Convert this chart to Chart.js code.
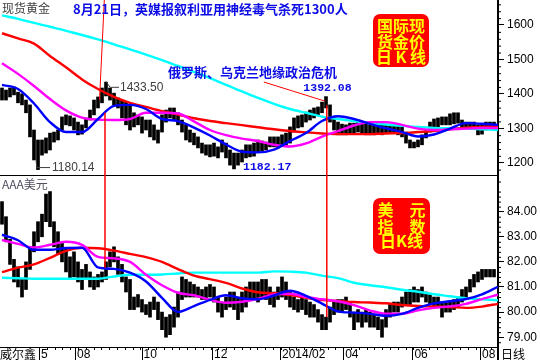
<!DOCTYPE html>
<html>
<head>
<meta charset="utf-8">
<script src="https://cdn.jsdelivr.net/npm/chart.js@4.4.0/dist/chart.umd.min.js"></script>
<style>
  html, body { margin: 0; padding: 0; background: #fff; }
</style>
</head>
<body>
<canvas id="myChart" width="540" height="360"></canvas>
<script>
// one bar = about 2.5 trading days, moving averages read every 4 bars
const MA_STEP = 4;

const goldHigh = [1417,1411,1417,1420,1405,1400,1382,1368,1295,1266,
    1266,1272,1286,1289,1295,1333,1339,1336,1330,1318,
    1310,1330,1353,1382,1391,1417,1434,1417,1402,1388,
    1382,1376,1368,1345,1339,1333,1324,1324,1310,1295,
    1339,1353,1359,1359,1345,1324,1310,1295,1286,1275,
    1257,1252,1252,1257,1246,1266,1257,1237,1228,1228,
    1237,1252,1252,1257,1266,1263,1260,1275,1275,1275,
    1281,1286,1304,1330,1336,1339,1347,1353,1359,1362,
    1376,1392,1368,1333,1318,1312,1310,1315,1315,1324,
    1318,1315,1310,1310,1310,1310,1310,1307,1310,1310,
    1304,1289,1266,1260,1266,1281,1295,1318,1327,1330,
    1333,1333,1342,1345,1345,1324,1318,1318,1318,1310,
    1312,1318,1318,1318];
const goldLow = [1382,1382,1391,1397,1374,1368,1345,1275,1208,1180,
    1222,1228,1237,1260,1266,1295,1310,1307,1295,1281,
    1283,1301,1324,1339,1359,1374,1394,1382,1368,1359,
    1330,1310,1295,1304,1310,1286,1295,1275,1266,1257,
    1289,1318,1330,1324,1310,1289,1266,1260,1252,1243,
    1228,1222,1217,1219,1214,1231,1214,1193,1182,1193,
    1202,1214,1217,1219,1231,1234,1237,1246,1246,1243,
    1249,1252,1257,1289,1301,1304,1318,1324,1330,1339,
    1345,1359,1318,1295,1281,1281,1281,1286,1286,1289,
    1286,1281,1281,1281,1283,1281,1286,1286,1286,1281,
    1275,1257,1243,1243,1246,1252,1272,1289,1301,1304,
    1310,1310,1310,1313,1315,1301,1301,1301,1298,1281,
    1283,1295,1301,1301];

const usdHigh = [84.4,83.8,82.9,82.1,81.8,81.3,82.0,82.6,83.2,83.6,
    83.9,84.7,84.8,83.6,83.2,82.8,82.5,82.2,82.4,82.0,
    81.7,81.9,81.6,81.4,81.5,81.6,82.0,82.4,82.6,82.2,
    81.9,81.4,81.3,80.6,80.7,80.5,80.3,80.4,80.6,80.4,
    80.0,79.8,79.9,80.2,80.8,81.4,81.3,81.2,81.1,81.0,
    80.9,81.0,81.1,81.0,80.6,80.4,80.6,80.8,80.8,80.6,
    80.8,81.0,81.2,81.2,81.2,81.3,81.3,81.0,80.8,81.0,
    81.4,81.2,80.8,80.6,80.5,80.6,80.5,80.4,80.3,80.1,
    79.9,79.8,80.2,80.4,80.5,80.5,80.6,80.4,80.0,80.1,
    80.0,80.1,80.0,79.9,79.8,79.7,80.1,80.3,80.4,80.4,
    80.6,80.8,80.9,81.0,80.9,81.0,80.8,80.7,80.6,80.6,
    80.4,80.4,80.4,80.5,80.6,80.9,81.0,81.3,81.5,81.6,
    81.7,81.7,81.7,81.7];
const usdLow = [83.5,82.8,81.9,81.2,81.0,80.6,80.9,81.7,82.4,82.8,
    83.0,83.6,83.4,82.6,82.3,82.0,81.6,81.3,81.4,81.2,
    80.9,81.3,81.0,80.9,81.0,81.2,81.3,81.8,82.0,81.5,
    81.2,80.8,80.1,80.1,80.2,80.0,79.9,79.8,80.1,79.7,
    79.3,79.0,79.1,79.4,79.8,80.5,80.6,80.6,80.6,80.6,
    80.5,80.5,80.6,80.4,80.0,79.8,80.1,80.2,80.1,79.7,
    80.0,80.2,80.5,80.5,80.4,80.6,80.5,80.3,80.2,80.5,
    80.6,80.5,80.2,80.1,80.0,80.1,79.9,79.8,79.8,79.6,
    79.3,79.3,79.6,79.9,80.0,80.0,80.1,79.8,79.3,79.6,
    79.4,79.6,79.4,79.4,79.3,79.0,79.4,79.8,80.0,80.0,
    80.2,80.3,80.3,80.4,80.4,80.6,80.4,80.3,80.2,80.2,
    79.8,80.0,80.0,80.1,80.2,80.4,80.6,80.8,81.0,81.2,
    81.3,81.4,81.4,81.4];

// moving averages, one value every MA_STEP bars
const goldMaBlue = [1426,1414,1372,1318,1289,1289,1327,1365,1368,1356,1327,1321,1302,1279,1253,1232,
    1230,1238,1263,1286,1321,1335,1327,1313,1300,1289,1276,1282,1299,1315,1313,1310];
const goldMaPink = [1489,1458,1423,1385,1352,1331,1325,1324,1327,1345,1345,1343,1320,1295,1280,1270,
    1263,1252,1247,1256,1276,1292,1308,1318,1318,1310,1299,1295,1297,1299,1301,1301];
const goldMaRed = [1576,1561,1546,1510,1477,1442,1414,1391,1374,1362,1350,1340,1329,1321,1315,1309,
    1303,1297,1292,1288,1285,1283,1283,1283,1285,1286,1289,1292,1297,1302,1304,1307];
const goldMaCyan = [1628,1618,1606,1595,1583,1571,1558,1544,1529,1514,1498,1481,1464,1446,1426,1407,
    1388,1371,1356,1345,1334,1327,1321,1315,1311,1307,1304,1301,1300,1299,1297,1295];

const usdMaBlue = [83.08,82.86,82.48,82.48,82.55,82.56,81.78,81.72,81.57,81.22,80.57,80.01,80.24,80.49,80.67,80.55,
    80.51,80.66,80.85,80.65,80.34,80.03,79.98,79.93,79.85,79.93,80.17,80.35,80.43,80.52,80.71,81.01];
const usdMaPink = [82.87,82.72,82.57,82.68,82.80,82.68,82.20,82.14,82.00,81.49,81.07,80.77,80.67,80.49,80.37,80.41,
    80.53,80.70,80.73,80.60,80.51,80.43,80.28,80.06,79.94,79.94,80.07,80.17,80.23,80.33,80.52,80.69];
const usdMaRed = [81.59,81.77,81.90,82.16,82.44,82.56,82.54,82.45,82.32,82.19,82.00,81.71,81.45,81.31,81.16,80.94,
    80.79,80.75,80.68,80.57,80.48,80.44,80.40,80.38,80.35,80.28,80.24,80.22,80.20,80.17,80.22,80.33];
const usdMaCyan = [81.37,81.35,81.33,81.33,81.33,81.33,81.33,81.42,81.49,81.49,81.50,81.54,81.57,81.57,81.57,81.57,
    81.57,81.62,81.61,81.57,81.45,81.35,81.17,81.07,80.99,80.89,80.81,80.71,80.63,80.55,80.51,80.47];

const goldTicks = [1200, 1300, 1400, 1500, 1600];
const usdTicks = [79, 80, 81, 82, 83, 84];
const monthLabels = ['5', '08', '10', '12', '2014/02', '04', '06', '08'];
const monthAt = [9.75, 18.75, 35.4, 53, 70, 85.8, 103.1, 120];   // bar index where the label starts

const BLUE_TXT = '#0c0ce6';
const CJK = '"Noto Sans CJK SC", sans-serif';

function barSet(lo, hi, axis) {
    return {
        type: 'bar',
        data: hi.map((h, i) => ({ x: i, y: [lo[i], h] })),
        yAxisID: axis,
        backgroundColor: '#000',
        borderWidth: 0,
        barThickness: 3,
        grouped: false,
        order: 10
    };
}

function maSet(values, color, axis, order) {
    return {
        type: 'line',
        data: values.map((v, k) => ({ x: k * MA_STEP, y: v })),
        yAxisID: axis,
        borderColor: color,
        borderWidth: 2.4,
        pointRadius: 0,
        fill: false,
        cubicInterpolationMode: 'monotone',
        order: order
    };
}

function txt(c, s, x, y, font, color, align) {
    c.font = font;
    c.fillStyle = color;
    c.textAlign = align || 'left';
    c.textBaseline = 'middle';
    c.fillText(s, x, y);
}

function line(c, pts, color, w) {
    c.strokeStyle = color;
    c.lineWidth = w;
    c.beginPath();
    c.moveTo(pts[0][0], pts[0][1]);
    for (let k = 1; k < pts.length; k++) c.lineTo(pts[k][0], pts[k][1]);
    c.stroke();
}

function redBox(c, x, y, w, h, rows, cy) {
    c.fillStyle = '#ff0000';
    c.beginPath();
    c.roundRect(x, y, w, h, 7);
    c.fill();
    rows.forEach((r, k) => txt(c, r, x + w / 2, cy[k], 'bold 16px ' + CJK, '#ffff00', 'center'));
}

// no extra room round the plot for half tick labels
function tightY(s) {
    s.width = 42;
    s.paddingTop = 0;
    s.paddingBottom = 0;
}

const decor = {
    id: 'decor',
    afterDraw(chart) {
        const c = chart.ctx;
        const x = chart.scales.x, g = chart.scales.yG, u = chart.scales.yU;
        const right = chart.chartArea.right;
        c.save();

        // panel separator, axis continuation
        line(c, [[0, g.bottom - 0.5], [right, g.bottom - 0.5]], '#000', 1);
        line(c, [[right, x.top], [right, 360]], '#000', 2);

        // minor ticks on the price axes
        for (let v = 1180; v <= 1660; v += 20) {
            if (v % 100) line(c, [[right, g.getPixelForValue(v) + 0.5], [right + 3, g.getPixelForValue(v) + 0.5]], '#000', 1);
        }
        for (let v = 78.8; v <= 85.3; v += 0.2) {
            if (Math.abs(v - Math.round(v)) > 0.05) line(c, [[right, u.getPixelForValue(v) + 0.5], [right + 3, u.getPixelForValue(v) + 0.5]], '#000', 1);
        }

        // month and week ticks on the date axis
        monthAt.forEach(m => {
            const px = Math.round(x.getPixelForValue(m)) - 1.5;
            line(c, [[px, x.top], [px, 360]], '#000', 1);
        });
        for (let m = monthAt[0] - 1.95 * 5; m < 124; m += 1.95) {
            const px = Math.round(x.getPixelForValue(m)) - 1.5;
            if (px > 36 && px < right) line(c, [[px, x.top], [px, x.top + 3]], '#000', 1);
        }

        // panel titles and corner labels
        txt(c, '现货黄金', 2, 8, '12px ' + CJK, '#404040');
        txt(c, 'AAA美元', 2, 184, '12px ' + CJK, '#505060');
        c.fillStyle = '#fff';
        c.fillRect(0, x.top + 1, 36, 360 - x.top);
        txt(c, '威尔鑫', 0, 354, '12px ' + CJK, '#000');
        txt(c, '日线', right + 3, 354, '12px ' + CJK, '#000');

        // event 1: 2013-08-21
        const e1 = x.getPixelForValue(25.75);
        line(c, [[e1 - 0.7, 0], [e1 - 5.5, g.getPixelForValue(1382)]], '#ff0000', 1);
        line(c, [[e1, g.getPixelForValue(1345)], [e1, u.getPixelForValue(81.77)]], '#ff0000', 1.5);
        txt(c, '8月21日，英媒报叙利亚用神经毒气杀死1300人', 73, 9, 'bold 13px ' + CJK, BLUE_TXT);

        // event 2: Russia / Ukraine
        const e2 = x.getPixelForValue(81.2);
        line(c, [[e2 - 63, 82], [e2 - 2, g.getPixelForValue(1379)]], '#ff0000', 1);
        line(c, [[e2, g.getPixelForValue(1367)], [e2, u.getPixelForValue(79.8)]], '#ff0000', 1.5);
        txt(c, '俄罗斯、乌克兰地缘政治危机', 168, 72, 'bold 13px ' + CJK, BLUE_TXT);

        // extreme price labels
        let px = x.getPixelForValue(26), py = g.getPixelForValue(1433.5);
        line(c, [[px, py - 1], [px + 4, py + 5], [px + 13, py + 5]], '#404040', 1);
        txt(c, '1433.50', px + 14, py + 5, '12px "Liberation Sans", Arial', '#404040');

        px = x.getPixelForValue(9); py = g.getPixelForValue(1180.14);
        line(c, [[px - 2, py - 9], [px - 1, py - 2], [px + 12, py - 2]], '#404040', 1);
        txt(c, '1180.14', px + 14, py - 2, '12px "Liberation Sans", Arial', '#404040');

        px = x.getPixelForValue(58); py = g.getPixelForValue(1182.17);
        txt(c, '1182.17', px + 9, py - 2, 'bold 11.5px "Liberation Mono", monospace', BLUE_TXT);

        px = x.getPixelForValue(81); py = g.getPixelForValue(1392.08);
        txt(c, '1392.08', px + 1.5, py - 8, 'bold 11.5px "Liberation Mono", monospace', BLUE_TXT, 'center');

        // title boxes
        redBox(c, 373, 14, 56, 53, ['国际现', '货金价', '日 K 线'], [25.7, 42.3, 57]);
        redBox(c, 373, 198, 57, 56, ['美　元', '指　数', '日K线'], [210, 226.7, 240.7]);

        c.restore();
    }
};

const ctx = document.getElementById('myChart').getContext('2d');
const myChart = new Chart(ctx, {
    type: 'bar',
    data: {
        datasets: [
            barSet(goldLow, goldHigh, 'yG'),
            barSet(usdLow, usdHigh, 'yU'),
            maSet(goldMaCyan, '#00ffff', 'yG', 4),
            maSet(goldMaRed, '#ff0000', 'yG', 3),
            maSet(goldMaPink, '#ff00ff', 'yG', 2),
            maSet(goldMaBlue, '#0000ff', 'yG', 1),
            maSet(usdMaCyan, '#00ffff', 'yU', 4),
            maSet(usdMaRed, '#ff0000', 'yU', 3),
            maSet(usdMaPink, '#ff00ff', 'yU', 2),
            maSet(usdMaBlue, '#0000ff', 'yU', 1)
        ]
    },
    options: {
        responsive: false,
        animation: false,
        devicePixelRatio: 1,
        layout: { padding: 0 },
        plugins: {
            legend: { display: false },
            tooltip: { enabled: false }
        },
        scales: {
            x: {
                type: 'linear',
                min: -0.5,
                max: 124,
                offset: false,
                grid: { display: false, drawTicks: false },
                border: { display: true, color: '#000', width: 1 },
                afterBuildTicks: s => { s.ticks = monthAt.map(v => ({ value: v })); },
                afterFit: s => { s.height = 13; s.paddingLeft = 0; s.paddingRight = 0; },
                ticks: {
                    autoSkip: false,
                    maxRotation: 0,
                    align: 'start',
                    padding: 0,
                    color: '#000',
                    font: { family: '"Liberation Sans", Arial', size: 12 },
                    callback: (v, i) => monthLabels[i]
                }
            },
            yG: {
                type: 'linear',
                position: 'right',
                stack: 'panels',
                stackWeight: 176,
                min: 1161.4,
                max: 1672.6,
                beginAtZero: false,
                grid: { drawOnChartArea: false, tickLength: 6, color: '#000' },
                border: { display: true, color: '#000', width: 2 },
                afterBuildTicks: s => { s.ticks = goldTicks.map(v => ({ value: v })); },
                afterFit: tightY,
                ticks: {
                    autoSkip: false,
                    padding: 3,
                    color: '#000',
                    font: { family: '"Liberation Sans", Arial', size: 12 },
                    callback: v => String(v)
                }
            },
            yU: {
                type: 'linear',
                position: 'right',
                stack: 'panels',
                stackWeight: 171,
                min: 78.61,
                max: 85.42,
                beginAtZero: false,
                grid: { drawOnChartArea: false, tickLength: 6, color: '#000' },
                border: { display: true, color: '#000', width: 2 },
                afterBuildTicks: s => { s.ticks = usdTicks.map(v => ({ value: v })); },
                afterFit: tightY,
                ticks: {
                    autoSkip: false,
                    padding: 3,
                    color: '#000',
                    font: { family: '"Liberation Sans", Arial', size: 12 },
                    callback: v => v.toFixed(2)
                }
            }
        }
    },
    plugins: [decor]
});
</script>
</body>
</html>
